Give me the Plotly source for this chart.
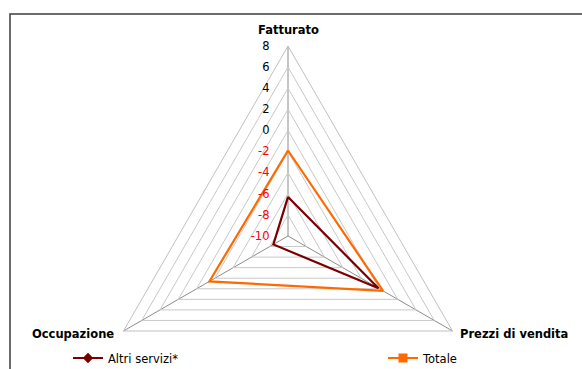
import plotly.graph_objects as go

# Radar axes and values
categories = ["Fatturato", "Prezzi di vendita", "Occupazione"]
altri_servizi = [-6.3, -0.1, -8.4]
totale = [-1.9, 0.4, -1.4]

radial_ticks = [-10, -8, -6, -4, -2, 0, 2, 4, 6, 8]

FONT = "DejaVu Sans"
W, H = 582, 440            # page shows the top 369 px
CX, CY, R = 288, 236, 190  # polar centre and radius in px


def closed(vals):
    return vals + vals[:1]


def tick_label(v):
    color = "#ff0000" if v < 0 else "#000000"
    return f'<span style="color:{color}">{v}</span>'


def px(x):
    return x / W


def py(y):
    return 1 - y / H


fig = go.Figure()

fig.add_trace(go.Scatterpolar(
    r=closed(altri_servizi), theta=closed(categories),
    name="Altri servizi*", mode="lines+markers", legend="legend",
    line=dict(color="#7a0000", width=2.2),
    marker=dict(symbol="diamond", size=8, color="#7a0000"),
))
fig.add_trace(go.Scatterpolar(
    r=closed(totale), theta=closed(categories),
    name="Totale", mode="lines+markers", legend="legend2",
    line=dict(color="#ff6a00", width=2.2),
    marker=dict(symbol="square", size=9, color="#ff6a00"),
))

# Category names around the triangle
axis_labels = [
    dict(text=categories[0], x=px(CX), y=py(30), xanchor="center"),
    dict(text=categories[1], x=px(458), y=py(334), xanchor="left"),
    dict(text=categories[2], x=px(116), y=py(334), xanchor="right"),
]
annotations = [
    dict(xref="paper", yref="paper", yanchor="middle", showarrow=False,
         font=dict(family=FONT, size=11.5, weight="bold", color="black"), **a)
    for a in axis_labels
]

legend_style = dict(
    orientation="h", xanchor="left", yanchor="middle", y=py(358),
    font=dict(family=FONT, size=11.5), bgcolor="rgba(0,0,0,0)",
)

fig.update_layout(
    width=W, height=H,
    margin=dict(l=0, r=0, t=0, b=0),
    paper_bgcolor="white",
    font=dict(family=FONT, size=11, color="black"),
    polar=dict(
        domain=dict(x=[px(CX - R), px(CX + R)], y=[py(CY + R), py(CY - R)]),
        bgcolor="white",
        gridshape="linear",
        radialaxis=dict(
            range=[-10, 8], angle=90, tickangle=90,
            tickvals=radial_ticks,
            ticktext=[tick_label(v) for v in radial_ticks],
            tickfont=dict(family=FONT, size=11.5),
            showline=False, ticks="outside", ticklen=14,
            tickcolor="rgba(0,0,0,0)", side="counterclockwise",
            gridcolor="#c8c8c8", gridwidth=1,
        ),
        angularaxis=dict(
            type="category", categoryarray=categories,
            direction="clockwise", rotation=90,
            gridcolor="#8c8c8c", gridwidth=1,
            showline=True, linecolor="#c0c0c0", linewidth=1,
            ticks="", showticklabels=False,
        ),
    ),
    showlegend=True,
    legend=dict(x=px(68), **legend_style),
    legend2=dict(x=px(383), **legend_style),
    annotations=annotations,
    shapes=[dict(
        type="rect", xref="paper", yref="paper",
        x0=px(10), x1=1.05, y0=-0.1, y1=py(14),
        line=dict(color="#3c3c3c", width=1.5), fillcolor="rgba(0,0,0,0)",
    )],
)

fig.write_html("out.html")
